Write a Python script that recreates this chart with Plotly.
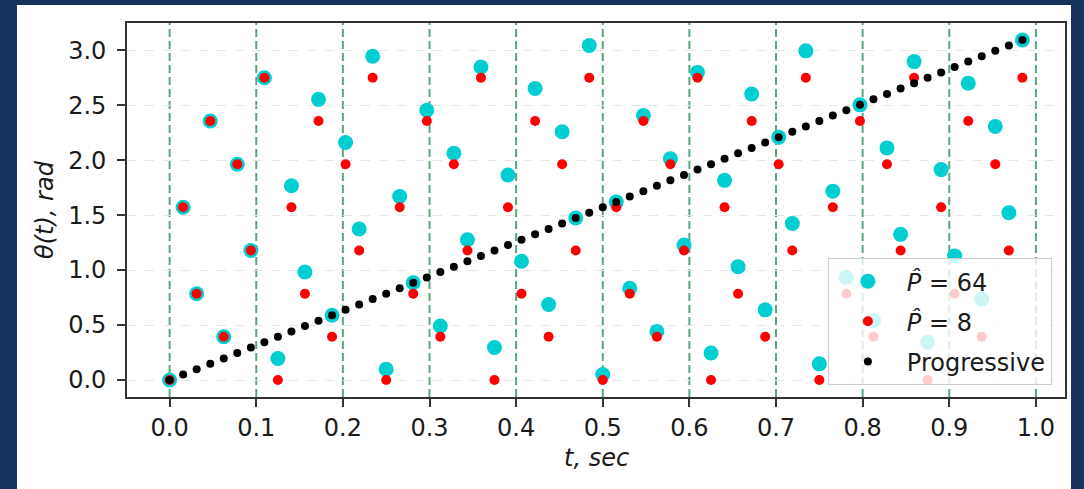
import plotly.graph_objects as go

# time samples (sec)
t = [0.0, 0.0156, 0.0312, 0.0469, 0.0625, 0.0781, 0.0938, 0.1094,
     0.125, 0.1406, 0.1562, 0.1719, 0.1875, 0.2031, 0.2188, 0.2344,
     0.25, 0.2656, 0.2812, 0.2969, 0.3125, 0.3281, 0.3438, 0.3594,
     0.375, 0.3906, 0.4062, 0.4219, 0.4375, 0.4531, 0.4688, 0.4844,
     0.5, 0.5156, 0.5312, 0.5469, 0.5625, 0.5781, 0.5938, 0.6094,
     0.625, 0.6406, 0.6562, 0.6719, 0.6875, 0.7031, 0.7188, 0.7344,
     0.75, 0.7656, 0.7812, 0.7969, 0.8125, 0.8281, 0.8438, 0.8594,
     0.875, 0.8906, 0.9062, 0.9219, 0.9375, 0.9531, 0.9688, 0.9844]

# theta for P_hat = 64
theta_p64 = [0.000, 1.571, 0.785, 2.356, 0.393, 1.963, 1.178, 2.749,
             0.196, 1.767, 0.982, 2.553, 0.589, 2.160, 1.374, 2.945,
             0.098, 1.669, 0.884, 2.454, 0.491, 2.062, 1.276, 2.847,
             0.295, 1.865, 1.080, 2.651, 0.687, 2.258, 1.473, 3.043,
             0.049, 1.620, 0.834, 2.405, 0.442, 2.013, 1.227, 2.798,
             0.245, 1.816, 1.031, 2.602, 0.638, 2.209, 1.424, 2.994,
             0.147, 1.718, 0.933, 2.503, 0.540, 2.111, 1.325, 2.896,
             0.344, 1.914, 1.129, 2.700, 0.736, 2.307, 1.522, 3.093]

# theta for P_hat = 8
theta_p8 = [0.000, 1.571, 0.785, 2.356, 0.393, 1.963, 1.178, 2.749,
            0.000, 1.571, 0.785, 2.356, 0.393, 1.963, 1.178, 2.749,
            0.000, 1.571, 0.785, 2.356, 0.393, 1.963, 1.178, 2.749,
            0.000, 1.571, 0.785, 2.356, 0.393, 1.963, 1.178, 2.749,
            0.000, 1.571, 0.785, 2.356, 0.393, 1.963, 1.178, 2.749,
            0.000, 1.571, 0.785, 2.356, 0.393, 1.963, 1.178, 2.749,
            0.000, 1.571, 0.785, 2.356, 0.393, 1.963, 1.178, 2.749,
            0.000, 1.571, 0.785, 2.356, 0.393, 1.963, 1.178, 2.749]

# progressive theta
theta_prog = [0.000, 0.049, 0.098, 0.147, 0.196, 0.245, 0.295, 0.344,
              0.393, 0.442, 0.491, 0.540, 0.589, 0.638, 0.687, 0.736,
              0.785, 0.834, 0.884, 0.933, 0.982, 1.031, 1.080, 1.129,
              1.178, 1.227, 1.276, 1.325, 1.374, 1.424, 1.473, 1.522,
              1.571, 1.620, 1.669, 1.718, 1.767, 1.816, 1.865, 1.914,
              1.963, 2.013, 2.062, 2.111, 2.160, 2.209, 2.258, 2.307,
              2.356, 2.405, 2.454, 2.503, 2.553, 2.602, 2.651, 2.700,
              2.749, 2.798, 2.847, 2.896, 2.945, 2.994, 3.043, 3.093]

vlines = [0.0, 0.1, 0.2, 0.3, 0.4, 0.5, 0.6, 0.7, 0.8, 0.9, 1.0]
x_ticks = [0.0, 0.1, 0.2, 0.3, 0.4, 0.5, 0.6, 0.7, 0.8, 0.9, 1.0]
x_ticklabels = ["0.0", "0.1", "0.2", "0.3", "0.4", "0.5", "0.6", "0.7", "0.8", "0.9", "1.0"]
y_ticks = [0.0, 0.5, 1.0, 1.5, 2.0, 2.5, 3.0]
y_ticklabels = ["0.0", "0.5", "1.0", "1.5", "2.0", "2.5", "3.0"]

FONT = "DejaVu Sans"
TXT = "#1a1a1a"
NAVY = "#17325e"
FS = 24

fig = go.Figure()
fig.add_trace(go.Scatter(x=t, y=theta_p64, mode="markers", name="<i>P̂</i> = 64",
                         marker=dict(color="#00CED1", size=15, line=dict(width=0))))
fig.add_trace(go.Scatter(x=t, y=theta_p8, mode="markers", name="<i>P̂</i> = 8",
                         marker=dict(color="#FF0000", size=10, line=dict(width=0))))
fig.add_trace(go.Scatter(x=t, y=theta_prog, mode="markers", name="Progressive",
                         marker=dict(color="#000000", size=8, line=dict(width=0))))

shapes = [dict(type="rect", xref="paper", yref="paper", x0=-0.1173, x1=1.0064,
               y0=-0.3, y1=1.0481, fillcolor="white", line=dict(width=0), layer="below")]
for xv in vlines:
    shapes.append(dict(type="line", xref="x", yref="paper", x0=xv, x1=xv, y0=0, y1=1,
                       line=dict(color="rgba(34,139,80,0.75)", width=2, dash="8px,4px"),
                       layer="below"))

fig.update_layout(
    width=1084, height=489,
    margin=dict(l=127, r=19, t=23, b=92),
    paper_bgcolor=NAVY, plot_bgcolor="white",
    font=dict(family=FONT, size=FS, color=TXT),
    shapes=shapes,
    showlegend=True,
    legend=dict(x=0.986, y=0.032, xanchor="right", yanchor="bottom",
                bgcolor="rgba(255,255,255,0.8)", bordercolor="#cccccc", borderwidth=1,
                itemwidth=68,
                font=dict(family=FONT, size=FS, color=TXT), tracegroupgap=6),
    annotations=[
        dict(text="<i>t, sec</i>", xref="paper", yref="paper", x=0.5, y=-0.163,
             xanchor="center", yanchor="middle", showarrow=False,
             font=dict(family=FONT, size=FS, color=TXT)),
        dict(text="<i>θ(t), rad</i>", xref="paper", yref="paper", x=-0.0874, y=0.5,
             xanchor="center", yanchor="middle", showarrow=False, textangle=-90,
             font=dict(family=FONT, size=FS, color=TXT)),
    ],
)
for i, tr in enumerate(fig.data):
    tr.legendgroup = f"g{i}"

fig.update_xaxes(range=[-0.0492, 1.0336], tickvals=x_ticks, ticktext=x_ticklabels,
                 showgrid=False, zeroline=False, showline=True, mirror=True,
                 linecolor="#333333", linewidth=1.8, ticks="outside", ticklen=8,
                 tickwidth=1.5, tickcolor="#333333",
                 tickfont=dict(family=FONT, size=FS, color=TXT))
fig.update_yaxes(range=[-0.1546, 3.2473], tickvals=y_ticks, ticktext=y_ticklabels,
                 showgrid=True, gridcolor="#e6e6e6", gridwidth=1, griddash="dash",
                 zeroline=False, showline=True, mirror=True,
                 linecolor="#333333", linewidth=1.8, ticks="outside", ticklen=8,
                 tickwidth=1.5, tickcolor="#333333", ticklabelstandoff=6,
                 tickfont=dict(family=FONT, size=FS, color=TXT))

fig.write_html("out.html")
